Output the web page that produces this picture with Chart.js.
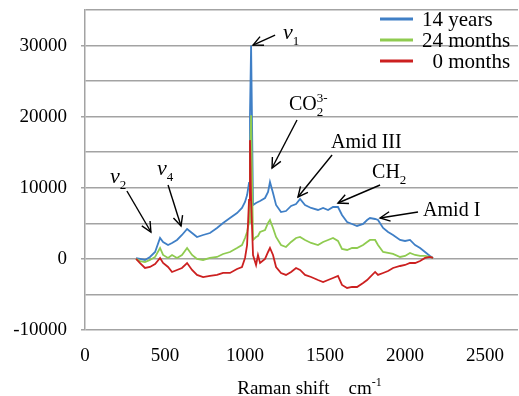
<!DOCTYPE html>
<html><head><meta charset="utf-8">
<script src="https://cdn.jsdelivr.net/npm/chart.js@4"></script>
<style>html,body{margin:0;padding:0;background:#fff}</style>
</head><body>
<canvas id="c" width="519" height="396"></canvas>
<script>
const FONT = "'Liberation Serif','Times New Roman',serif";

// ---- data ----
const seriesLabels = ['14 years', '24 months', '0 months'];
const xTickValues = [0, 500, 1000, 1500, 2000, 2500];
const ramanShift = [319,344,375,406,438,469,488,519,544,575,606,638,669,700,738,781,825,863,906,950,981,1000,1013,1025,1031,1038,1050,1069,1081,1094,1125,1144,1156,1175,1194,1225,1256,1288,1319,1344,1375,1413,1456,1488,1519,1550,1581,1606,1638,1669,1700,1738,1763,1781,1813,1831,1863,1894,1925,1969,2000,2031,2063,2094,2125,2156,2175];
const years14 = [100,0,-150,270,970,2940,2380,1950,2240,2660,3360,4200,3640,3080,3360,3640,4350,5050,5750,6450,7160,8000,8980,10670,20300,30000,7580,7860,8000,8140,8560,9410,10810,9270,7580,6590,6730,7440,7720,8420,7580,7160,6880,7160,6880,7300,7300,6170,5190,4910,4630,4910,5470,5750,5610,5470,4350,3780,3360,2660,2520,2660,1950,1530,970,410,130];
const months24 = [0,-300,-440,-150,270,1530,550,130,550,130,550,1530,550,0,-150,130,270,690,970,1530,1950,2940,3780,5190,12500,20200,2660,3080,3220,3780,4060,5050,5470,4350,3080,1950,1670,2380,2940,3080,2660,2240,1950,2380,2660,2940,2520,1390,1250,1530,1530,1950,2380,2660,2660,1950,970,830,690,270,410,830,550,410,410,270,130];
const months0 = [0,-580,-1280,-1140,-720,130,-580,-1140,-1840,-1560,-1280,-580,-1560,-2260,-2550,-2400,-2260,-1980,-1980,-1420,-1140,130,1950,8280,16700,8280,550,-860,550,-580,0,970,1530,550,-1140,-1980,-2260,-1840,-1280,-1560,-2260,-2550,-2970,-3250,-2970,-2690,-2400,-3670,-4090,-3950,-3950,-3390,-2970,-2550,-1840,-2260,-1980,-1700,-1280,-1000,-860,-580,-580,-300,130,270,130];

// ---- styling / annotation config ----
const seriesColors = ['#3f7fc6', '#8fcb50', '#cc2020'];
const gridColor = '#a3a3a3';
const annotations = [
  {runs:[{t:'v',style:'italic ',size:22},{t:'1',pos:'sub'}], text:[1238,30918], tail:[1188,31480], head:[1050,30070]},
  {runs:[{t:'v',style:'italic ',size:22},{t:'2',pos:'sub'}], text:[156,10672], tail:[262,9547], head:[412,3782]},
  {runs:[{t:'v',style:'italic ',size:22},{t:'4',pos:'sub'}], text:[450,11796], tail:[519,10390], head:[600,4626]},
  {runs:[{t:'CO'},{t:'2',pos:'sub'},{t:'3-',pos:'sup',same:true}], text:[1275,20935], tail:[1325,19529], head:[1169,12781]},
  {runs:[{t:'Amid III'}], text:[1538,15593], tail:[1544,14608], head:[1331,8703]},
  {runs:[{t:'CH'},{t:'2',pos:'sub'}], text:[1794,11375], tail:[1844,10390], head:[1581,7860]},
  {runs:[{t:'Amid I'}], text:[2113,6032], tail:[2081,6594], head:[1844,5751]}
];

function drawRuns(ctx, runs, x, y, size) {
  let cx = x, lastX = x;
  runs.forEach(r => {
    let fs = r.size || size, dy = 0;
    if (r.pos === 'sub') { fs = Math.round(size * 0.65); dy = size * 0.28; }
    if (r.pos === 'sup') { fs = Math.round(size * 0.65); dy = -size * 0.42; }
    ctx.font = (r.style || '') + fs + 'px ' + FONT;
    const sx = r.same ? lastX : cx;
    ctx.fillText(r.t, sx, y + dy);
    lastX = sx;
    cx = Math.max(cx, sx + ctx.measureText(r.t).width);
  });
  return cx - x;
}
function measureRuns(ctx, runs, size) {
  let w = 0, lastX = 0;
  runs.forEach(r => {
    let fs = r.size || size;
    if (r.pos) fs = Math.round(size * 0.65);
    ctx.font = (r.style || '') + fs + 'px ' + FONT;
    const sx = r.same ? lastX : w;
    lastX = sx;
    w = Math.max(w, sx + ctx.measureText(r.t).width);
  });
  return w;
}
function arrow(ctx, x1, y1, x2, y2) {
  ctx.beginPath(); ctx.moveTo(x1, y1); ctx.lineTo(x2, y2); ctx.stroke();
  const a = Math.atan2(y2 - y1, x2 - x1), L = 11, w = 0.45;
  ctx.beginPath();
  ctx.moveTo(x2 - L * Math.cos(a - w), y2 - L * Math.sin(a - w));
  ctx.lineTo(x2, y2);
  ctx.lineTo(x2 - L * Math.cos(a + w), y2 - L * Math.sin(a + w));
  ctx.stroke();
}

const overlay = {
  id: 'overlay',
  afterDraw(chart) {
    const ctx = chart.ctx, xs = chart.scales.x, ys = chart.scales.y, area = chart.chartArea;
    ctx.save();
    ctx.fillStyle = '#000'; ctx.strokeStyle = '#000'; ctx.lineWidth = 1.4;
    ctx.textBaseline = 'alphabetic'; ctx.textAlign = 'left';
    annotations.forEach(a => {
      arrow(ctx, xs.getPixelForValue(a.tail[0]), ys.getPixelForValue(a.tail[1]),
                 xs.getPixelForValue(a.head[0]), ys.getPixelForValue(a.head[1]));
      drawRuns(ctx, a.runs, xs.getPixelForValue(a.text[0]), ys.getPixelForValue(a.text[1]), 20);
    });
    // legend
    ctx.font = '21px ' + FONT;
    const digitW = ctx.measureText('0').width;
    const maxDigits = Math.max(...seriesLabels.map(l => (l.match(/^\d+/) || [''])[0].length));
    seriesLabels.forEach((lab, i) => {
      const y = area.top + 9 + i * 21;
      const lx = area.right - 138;
      ctx.strokeStyle = seriesColors[i]; ctx.lineWidth = 3;
      ctx.beginPath(); ctx.moveTo(lx, y); ctx.lineTo(lx + 33, y); ctx.stroke();
      const nd = (lab.match(/^\d+/) || [''])[0].length;
      ctx.fillStyle = '#000'; ctx.textBaseline = 'middle';
      ctx.font = '21px ' + FONT;
      ctx.fillText(lab, lx + 42 + (maxDigits - nd) * digitW, y + 1);
    });
    // x axis title with superscript
    ctx.textBaseline = 'alphabetic';
    const titleRuns = [{t:'Raman shift    cm'}, {t:'-1', pos:'sup'}];
    const tw = measureRuns(ctx, titleRuns, 19);
    const cx = (area.left + area.right) / 2 + 8;
    drawRuns(ctx, titleRuns, cx - tw / 2, 394, 19);
    ctx.restore();
  }
};

const mk = (arr) => ramanShift.map((x, i) => ({x: x, y: arr[i]}));
const seriesData = [years14, months24, months0];
const noPad = s => { s.paddingTop = 0; s.paddingBottom = 0; s.paddingLeft = 0; s.paddingRight = 0; };

new Chart(document.getElementById('c'), {
  type: 'line',
  data: {
    datasets: seriesData.map((d, i) => ({
      label: seriesLabels[i], data: mk(d), borderColor: seriesColors[i],
      borderWidth: 1.8, pointRadius: 0, tension: 0, fill: false, order: 2 - i
    }))
  },
  options: {
    responsive: false, animation: false, devicePixelRatio: 1,
    layout: {padding: {top: 10, right: 1, left: 0, bottom: 0}},
    plugins: {legend: {display: false}, tooltip: {enabled: false}},
    scales: {
      x: {
        type: 'linear', min: 0, max: 2706,
        grid: {display: false}, border: {display: false},
        ticks: {color: '#000', font: {family: FONT, size: 19}, padding: 7, maxRotation: 0, autoSkip: false, callback: v => v},
        afterBuildTicks: s => { s.ticks = xTickValues.map(v => ({value: v})); },
        afterFit: s => { s.height = 66; noPad(s); }
      },
      y: {
        type: 'linear', min: -10000, max: 35000,
        ticks: {stepSize: 5000, padding: 14, color: '#000', font: {family: FONT, size: 19},
                callback: v => (v % 10000 === 0 ? String(v) : '')},
        grid: {color: gridColor, lineWidth: 1.5, tickLength: 4,
               tickColor: c => (c.tick && c.tick.value % 10000 === 0) ? gridColor : 'rgba(0,0,0,0)'},
        border: {display: true, color: gridColor, width: 1.5},
        afterFit: s => { s.width = 85; noPad(s); }
      }
    }
  },
  plugins: [overlay]
});
</script>
</body></html>
